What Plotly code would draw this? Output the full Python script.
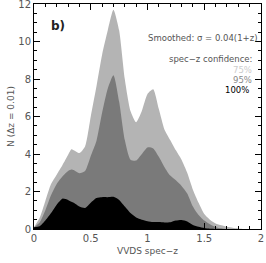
import plotly.graph_objects as go

z = [0.00, 0.05, 0.10, 0.15, 0.20, 0.25, 0.30, 0.33, 0.35, 0.40, 0.45, 0.50, 0.55, 0.60, 0.65,
     0.70, 0.75, 0.80, 0.85, 0.90, 0.95, 1.00, 1.05, 1.10, 1.15, 1.20, 1.25, 1.30, 1.35,
     1.40, 1.45, 1.50, 1.55, 1.60, 1.65, 1.70, 1.75, 1.80, 1.85, 1.90, 2.00]

n_75 = [0.1, 0.6, 1.5, 2.4, 2.9, 3.4, 3.95, 4.25, 4.2, 4.05, 4.4, 6.0, 7.6, 9.3, 10.6,
        11.7, 10.6, 8.0, 6.3, 5.7, 6.3, 7.2, 7.45, 6.4, 5.3, 4.75, 4.2, 3.7, 3.0,
        2.1, 1.4, 0.8, 0.5, 0.3, 0.2, 0.12, 0.07, 0.03, 0.0, 0.0, 0.0]

n_95 = [0.1, 0.35, 1.0, 1.8, 2.4, 2.8, 3.1, 3.18, 3.15, 2.98, 3.1, 3.9, 4.7, 6.2, 7.5,
        8.2, 6.8, 4.75, 3.7, 3.65, 4.0, 4.35, 4.3, 3.85, 3.3, 2.85, 2.6, 2.3, 1.9,
        1.2, 0.75, 0.45, 0.25, 0.1, 0.04, 0.0, 0.0, 0.0, 0.0, 0.0, 0.0]

n_100 = [0.1, 0.15, 0.45, 0.85, 1.3, 1.62, 1.55, 1.45, 1.4, 1.2, 1.12, 1.4, 1.65, 1.7, 1.7,
         1.72, 1.55, 1.2, 0.85, 0.62, 0.5, 0.42, 0.38, 0.37, 0.35, 0.36, 0.45, 0.48, 0.4,
         0.22, 0.12, 0.05, 0.01, 0.0, 0.0, 0.0, 0.0, 0.0, 0.0, 0.0, 0.0]

x_ticks = [0, 0.5, 1, 1.5, 2]
x_tick_labels = ["0", "0.5", "1", "1.5", "2"]
y_ticks = [0, 2, 4, 6, 8, 10, 12]
y_tick_labels = ["0", "2", "4", "6", "8", "10", "12"]

fig = go.Figure()
for vals, col in [(n_75, "#b4b4b4"), (n_95, "#7a7a7a"), (n_100, "#000000")]:
    fig.add_trace(go.Scatter(x=z, y=vals, mode="lines", fill="tozeroy",
                             line=dict(color=col, width=0, shape="spline", smoothing=0.6),
                             fillcolor=col, hoverinfo="skip", showlegend=False))

txt = "#555555"
font = dict(family="DejaVu Sans", size=10, color=txt)
fig.update_layout(
    width=266, height=263,
    margin=dict(l=34, r=5, t=4, b=34, autoexpand=False),
    paper_bgcolor="white", plot_bgcolor="white",
    font=font,
    xaxis=dict(range=[0, 2], tickvals=x_ticks, ticktext=x_tick_labels, automargin=False,
               ticklabeloverflow="allow",
               ticks="inside", ticklen=6, tickcolor="black", mirror="allticks",
               showline=True, linecolor="black", linewidth=1, showgrid=False, zeroline=False,
               minor=dict(dtick=0.1, ticks="inside", ticklen=3, tickcolor="black", showgrid=False),
               title=dict(text="VVDS spec−z", font=dict(size=9, color=txt), standoff=4),
               tickfont=dict(size=10, color=txt)),
    yaxis=dict(range=[0, 12], tickvals=y_ticks, ticktext=y_tick_labels, automargin=False,
               ticklabeloverflow="allow",
               ticks="inside", ticklen=6, tickcolor="black", mirror="allticks",
               showline=True, linecolor="black", linewidth=1, showgrid=False, zeroline=False,
               minor=dict(dtick=0.5, ticks="inside", ticklen=3, tickcolor="black", showgrid=False),
               title=dict(text="N (Δz = 0.01)", font=dict(size=9, color=txt), standoff=2),
               tickfont=dict(size=10, color=txt)),
)

ann = [
    dict(x=0.13, y=10.85, text="<b>b)</b>", xanchor="left", yanchor="middle",
         font=dict(size=12, color="#222222")),
    dict(x=1.98, y=10.2, text="Smoothed: σ = 0.04(1+z)", xanchor="right", yanchor="middle",
         font=dict(size=8.5, color=txt)),
    dict(x=1.94, y=9.05, text="spec−z confidence:", xanchor="right", yanchor="middle",
         font=dict(size=8.5, color=txt)),
    dict(x=1.94, y=8.5, text="75%", xanchor="right", yanchor="middle",
         font=dict(size=8.5, color="#cccccc")),
    dict(x=1.94, y=7.95, text="95%", xanchor="right", yanchor="middle",
         font=dict(size=8.5, color="#888888")),
    dict(x=1.91, y=7.4, text="100%", xanchor="right", yanchor="middle",
         font=dict(size=8.5, color="#000000")),
]
for a in ann:
    a.update(xref="x", yref="y", showarrow=False)
    fig.add_annotation(**a)

fig.write_html("out.html", config={"displayModeBar": False},
               post_script="document.body.style.margin='0';document.body.style.padding='0';")
